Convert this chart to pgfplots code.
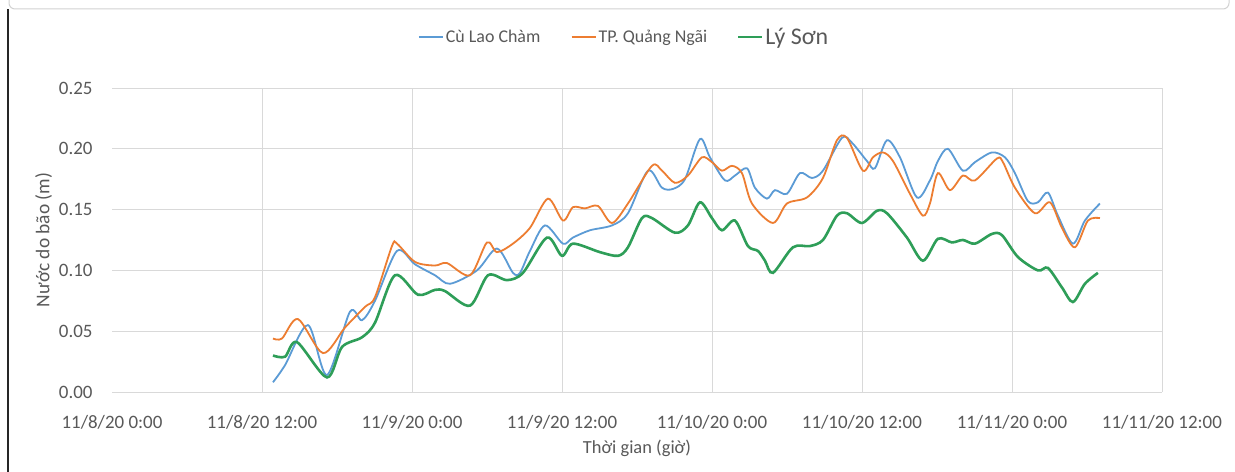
\documentclass[border=0pt]{standalone}
\usepackage{pgfplots}
\pgfplotsset{compat=1.18}
\usepackage{fontspec}
\setmainfont{Carlito}
\definecolor{cblue}{HTML}{5B9BD5}
\definecolor{corange}{HTML}{ED7D31}
\definecolor{cgreen}{RGB}{46,158,88}
\definecolor{tgray}{HTML}{595959}
\definecolor{ggray}{HTML}{D9D9D9}
\begin{document}
\begin{tikzpicture}
\useasboundingbox (0,0) rectangle (1235bp,472bp);
\fill[white] (0,0) rectangle (1235bp,472bp);
\draw[gray!35, line width=1bp, rounded corners=6bp] (9bp,480bp) -- (9bp,463bp) -- (1229bp,463bp) -- (1229bp,480bp);
\draw[black!85, line width=1.5bp] (8bp,0) -- (8bp,463bp);
\begin{axis}[
  scale only axis,
  width=1050bp, height=304bp,
  at={(112bp,80bp)}, anchor=south west,
  xmin=0, xmax=84, ymin=0, ymax=0.25,
  xtick={0,12,...,84},
  xticklabels={11/8/20 0:00,11/8/20 12:00,11/9/20 0:00,11/9/20 12:00,11/10/20 0:00,11/10/20 12:00,11/11/20 0:00,11/11/20 12:00},
  ytick={0,0.05,...,0.25},
  yticklabel style={/pgf/number format/fixed, /pgf/number format/fixed zerofill, /pgf/number format/precision=2, /pgf/number format/assume math mode=true, xshift=-16bp},
  ymajorgrids,
  extra x ticks={12,24,...,84},
  extra x tick labels={},
  extra x tick style={grid=major, major tick length=0pt},
  grid style={ggray, line width=0.8bp},
  axis line style={draw=none},
  major tick length=0pt,
  tick label style={font=\fontsize{19}{21}\selectfont, text=tgray},
  xticklabel style={yshift=-20bp},
  xlabel={Thời gian (giờ)},
  ylabel={Nước do bão (m)},
  xlabel style={font=\fontsize{18.5}{21}\selectfont, text=tgray, yshift=-4bp},
  ylabel style={font=\fontsize{19.5}{22}\selectfont, text=tgray, yshift=0bp},
  legend columns=3,
  legend style={at={(0.4876,1.168)}, anchor=center, draw=none, fill=none,
    font=\fontsize{18}{20}\selectfont, text=tgray,
    /tikz/every even column/.append style={column sep=28bp}},
  legend image code/.code={\draw[#1, line width=2.2bp] (0bp,0bp) -- (24bp,0bp);},
  clip=false,
]
\addplot[cblue, line width=1.8bp, smooth, tension=0.5] coordinates {
(12.88,0.008) (13.84,0.022) (15.68,0.055) (17.2,0.014) (19.04,0.066) (20.0,0.059)
(21.04,0.075) (22.8,0.116) (24.24,0.105) (25.84,0.096) (27.04,0.089) (29.2,0.100)
(30.8,0.118) (32.08,0.098) (32.64,0.098) (33.44,0.116) (34.64,0.137) (36.08,0.122)
(36.88,0.127) (38.24,0.133) (40.0,0.137) (41.28,0.147) (42.88,0.182) (44.0,0.168)
(44.88,0.167) (45.84,0.175) (47.04,0.208) (47.84,0.193) (49.04,0.174) (49.84,0.178)
(50.8,0.184) (51.44,0.168) (52.4,0.159) (53.04,0.166) (54.0,0.163) (55.04,0.180)
(56.0,0.176) (56.88,0.182) (58.4,0.209) (59.2,0.205) (60.4,0.190) (61.04,0.184)
(62.0,0.207) (63.04,0.193) (64.4,0.160) (65.44,0.174) (66.08,0.190) (66.88,0.200)
(68.08,0.182) (69.04,0.189) (70.4,0.197) (71.44,0.193) (72.24,0.180) (73.28,0.157)
(74.08,0.156) (74.88,0.164) (75.68,0.145) (76.88,0.122) (77.84,0.141) (79.04,0.155)
};
\addlegendentry{Cù Lao Chàm}
\addplot[corange, line width=1.8bp, smooth, tension=0.5] coordinates {
(12.88,0.044) (13.6,0.044) (14.88,0.060) (16.88,0.032) (18.64,0.053) (20.24,0.070)
(21.04,0.078) (22.4,0.120) (22.8,0.122) (24.24,0.107) (25.84,0.104) (26.8,0.106)
(28.64,0.096) (30.0,0.123) (30.8,0.115) (32.08,0.122) (33.44,0.135) (34.88,0.159)
(36.08,0.141) (36.88,0.152) (37.84,0.151) (38.88,0.153) (40.0,0.139) (41.28,0.155)
(43.2,0.186) (44.0,0.182) (45.04,0.172) (46.08,0.178) (47.2,0.193) (48.0,0.189)
(48.8,0.182) (49.6,0.186) (50.4,0.180) (51.2,0.155) (52.88,0.139) (54.0,0.155)
(55.6,0.160) (56.88,0.176) (58.0,0.207) (58.8,0.209) (60.08,0.182) (60.88,0.193)
(61.68,0.197) (62.48,0.190) (63.84,0.163) (64.88,0.145) (65.44,0.155) (66.08,0.180)
(67.04,0.166) (68.08,0.178) (69.04,0.174) (70.8,0.192) (71.28,0.189) (72.24,0.168)
(73.84,0.147) (75.04,0.156) (76.0,0.135) (77.04,0.119) (78.08,0.141) (79.04,0.143)
};
\addlegendentry{TP. Quảng Ngãi}
\addplot[cgreen, line width=2.6bp, smooth, tension=0.5] coordinates {
(12.88,0.030) (13.84,0.029) (14.8,0.041) (17.2,0.012) (18.4,0.037) (20.0,0.045)
(21.04,0.057) (22.64,0.096) (24.48,0.080) (25.84,0.084) (26.64,0.083) (28.64,0.071)
(30.08,0.096) (31.6,0.092) (32.88,0.098) (34.8,0.127) (36.0,0.112) (36.88,0.122)
(39.04,0.115) (40.48,0.112) (41.28,0.119) (42.4,0.143) (43.2,0.143) (45.04,0.131)
(46.08,0.137) (47.04,0.156) (48.0,0.143) (48.8,0.133) (49.84,0.141) (50.88,0.120)
(51.68,0.116) (52.24,0.108) (52.88,0.098) (54.48,0.119) (55.84,0.120) (56.88,0.125)
(58.0,0.145) (58.8,0.147) (60.0,0.139) (61.2,0.149) (62.0,0.147) (63.6,0.127)
(64.88,0.108) (66.08,0.126) (67.2,0.123) (68.08,0.125) (69.04,0.122) (70.4,0.130)
(71.2,0.129) (72.48,0.111) (74.08,0.100) (74.88,0.102) (76.0,0.086) (76.88,0.074)
(77.84,0.089) (78.88,0.098)
};
\addlegendentry{\fontsize{24}{26}\selectfont Lý Sơn}
\end{axis}
\end{tikzpicture}
\end{document}
